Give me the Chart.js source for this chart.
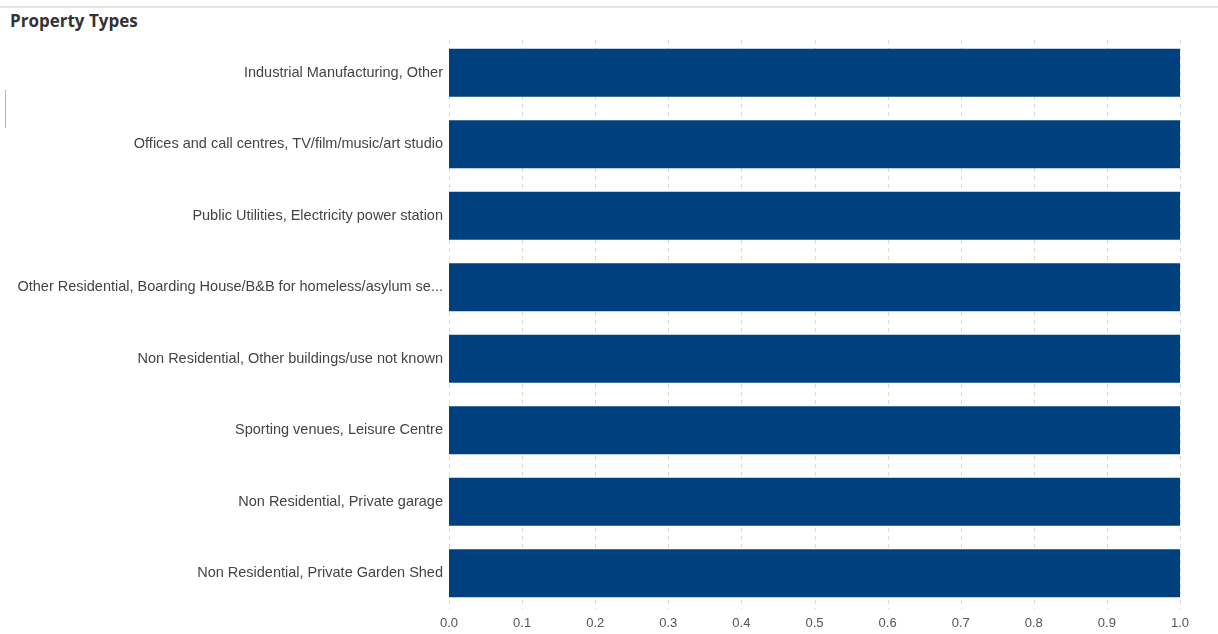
<!DOCTYPE html>
<html>
<head>
<meta charset="utf-8">
<script src="https://cdn.jsdelivr.net/npm/chart.js@4"></script>
<style>
    html, body { margin: 0; padding: 0; background: #fff; }
    #page { position: relative; width: 1218px; height: 634px; overflow: hidden; }
    #topLine { position: absolute; left: 0; top: 6px; width: 1218px; height: 2px; background: #e4e4e4; }
    #sideMark { position: absolute; left: 5px; top: 90px; width: 1px; height: 38px; background: #b5b5b5; }
    #title { position: absolute; left: 10px; top: 10px; font: bold 17px "Open Sans", sans-serif; color: #333; line-height: 22px; }
    #chartBox { position: absolute; left: 0; top: 30px; width: 1218px; height: 604px; }
</style>
</head>
<body>
<div id="page">
    <div id="topLine"></div>
    <div id="sideMark"></div>
    <div id="title">Property Types</div>
    <div id="chartBox"><canvas id="propertyChart"></canvas></div>
</div>
<script>
// Property type categories (top to bottom)
const categories = [
    'Industrial Manufacturing, Other',
    'Offices and call centres, TV/film/music/art studio',
    'Public Utilities, Electricity power station',
    'Other Residential, Boarding House/B&B for homeless/asylum se...',
    'Non Residential, Other buildings/use not known',
    'Sporting venues, Leisure Centre',
    'Non Residential, Private garage',
    'Non Residential, Private Garden Shed'
];
const counts = [1, 1, 1, 1, 1, 1, 1, 1];
const xTicks = [0, 0.1, 0.2, 0.3, 0.4, 0.5, 0.6, 0.7, 0.8, 0.9, 1.0];

document.addEventListener('DOMContentLoaded', function() {
    const ctx = document.getElementById('propertyChart');
    new Chart(ctx.getContext('2d'), {
        type: 'bar',
        data: {
            labels: categories,
            datasets: [{
                data: counts,
                backgroundColor: '#00407e',
                borderWidth: 0,
                categoryPercentage: 1.0,
                barPercentage: 0.67
            }]
        },
        options: {
            indexAxis: 'y',
            responsive: true,
            maintainAspectRatio: false,
            animation: false,
            layout: { padding: { left: 0, right: 38, top: 7, bottom: 0 } },
            plugins: {
                legend: { display: false },
                tooltip: { enabled: false }
            },
            scales: {
                x: {
                    min: 0,
                    max: 1,
                    afterBuildTicks: axis => { axis.ticks = xTicks.map(v => ({ value: v })); },
                    afterFit: axis => { axis.height = 25; axis.paddingLeft = 0; axis.paddingRight = 0; },
                    border: { display: false },
                    grid: { display: false, drawTicks: false },
                    ticks: {
                        padding: 7,
                        color: '#555',
                        font: { family: "'Liberation Sans', Arial", size: 13 },
                        callback: v => Number(v).toFixed(1)
                    }
                },
                y: {
                    afterFit: axis => { axis.width = 449; axis.paddingTop = 0; axis.paddingBottom = 0; },
                    border: { display: false },
                    grid: { display: false, drawTicks: false },
                    ticks: {
                        padding: 6,
                        color: '#444',
                        font: { family: "'Liberation Sans', Arial", size: 14.5 }
                    }
                }
            }
        },
        plugins: [{
            // dashed vertical gridlines
            id: 'dashGrid',
            beforeDatasetsDraw: chart => {
                const { ctx, chartArea, scales } = chart;
                ctx.save();
                ctx.strokeStyle = '#dadada';
                ctx.lineWidth = 1;
                ctx.setLineDash([4, 4]);
                xTicks.forEach(v => {
                    const px = Math.round(scales.x.getPixelForValue(v)) + 0.5;
                    ctx.beginPath();
                    ctx.moveTo(px, chartArea.top + 3);
                    ctx.lineTo(px, chartArea.bottom);
                    ctx.stroke();
                });
                ctx.restore();
            }
        }]
    });
});
</script>
</body>
</html>
